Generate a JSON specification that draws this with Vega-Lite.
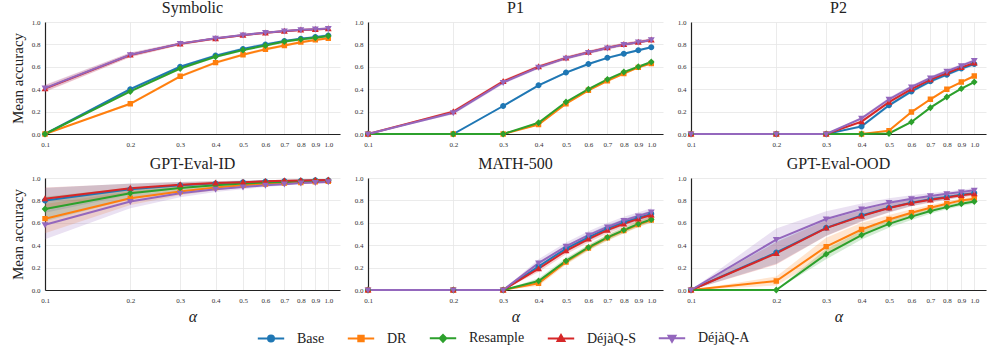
{
"$schema": "https://vega.github.io/schema/vega-lite/v6.json",
"padding": {"left": 10, "top": 0, "right": 5, "bottom": 0},
"background": "white",
"data": {"values": [
{"p":"Symbolic","s":"Base","a":0.1,"m":0,"lo":0,"hi":0},
{"p":"Symbolic","s":"Base","a":0.2,"m":0.40,"lo":0.388,"hi":0.412},
{"p":"Symbolic","s":"Base","a":0.3,"m":0.60,"lo":0.588,"hi":0.612},
{"p":"Symbolic","s":"Base","a":0.4,"m":0.70,"lo":0.688,"hi":0.712},
{"p":"Symbolic","s":"Base","a":0.5,"m":0.76,"lo":0.748,"hi":0.772},
{"p":"Symbolic","s":"Base","a":0.6,"m":0.80,"lo":0.788,"hi":0.812},
{"p":"Symbolic","s":"Base","a":0.7,"m":0.83,"lo":0.818,"hi":0.842},
{"p":"Symbolic","s":"Base","a":0.8,"m":0.85,"lo":0.838,"hi":0.862},
{"p":"Symbolic","s":"Base","a":0.9,"m":0.865,"lo":0.853,"hi":0.877},
{"p":"Symbolic","s":"Base","a":1.0,"m":0.88,"lo":0.868,"hi":0.892},
{"p":"Symbolic","s":"DR","a":0.1,"m":0,"lo":0,"hi":0},
{"p":"Symbolic","s":"DR","a":0.2,"m":0.27,"lo":0.258,"hi":0.282},
{"p":"Symbolic","s":"DR","a":0.3,"m":0.515,"lo":0.503,"hi":0.527},
{"p":"Symbolic","s":"DR","a":0.4,"m":0.637,"lo":0.625,"hi":0.649},
{"p":"Symbolic","s":"DR","a":0.5,"m":0.708,"lo":0.696,"hi":0.72},
{"p":"Symbolic","s":"DR","a":0.6,"m":0.756,"lo":0.744,"hi":0.768},
{"p":"Symbolic","s":"DR","a":0.7,"m":0.79,"lo":0.778,"hi":0.802},
{"p":"Symbolic","s":"DR","a":0.8,"m":0.82,"lo":0.808,"hi":0.832},
{"p":"Symbolic","s":"DR","a":0.9,"m":0.84,"lo":0.828,"hi":0.852},
{"p":"Symbolic","s":"DR","a":1.0,"m":0.855,"lo":0.843,"hi":0.867},
{"p":"Symbolic","s":"Resample","a":0.1,"m":0,"lo":0,"hi":0},
{"p":"Symbolic","s":"Resample","a":0.2,"m":0.38,"lo":0.368,"hi":0.392},
{"p":"Symbolic","s":"Resample","a":0.3,"m":0.585,"lo":0.573,"hi":0.597},
{"p":"Symbolic","s":"Resample","a":0.4,"m":0.69,"lo":0.678,"hi":0.702},
{"p":"Symbolic","s":"Resample","a":0.5,"m":0.75,"lo":0.738,"hi":0.762},
{"p":"Symbolic","s":"Resample","a":0.6,"m":0.79,"lo":0.778,"hi":0.802},
{"p":"Symbolic","s":"Resample","a":0.7,"m":0.825,"lo":0.813,"hi":0.837},
{"p":"Symbolic","s":"Resample","a":0.8,"m":0.845,"lo":0.833,"hi":0.857},
{"p":"Symbolic","s":"Resample","a":0.9,"m":0.86,"lo":0.848,"hi":0.872},
{"p":"Symbolic","s":"Resample","a":1.0,"m":0.875,"lo":0.863,"hi":0.887},
{"p":"Symbolic","s":"DéjàQ-S","a":0.1,"m":0.405,"lo":0.375,"hi":0.435},
{"p":"Symbolic","s":"DéjàQ-S","a":0.2,"m":0.705,"lo":0.685,"hi":0.725},
{"p":"Symbolic","s":"DéjàQ-S","a":0.3,"m":0.805,"lo":0.793,"hi":0.817},
{"p":"Symbolic","s":"DéjàQ-S","a":0.4,"m":0.852,"lo":0.842,"hi":0.862},
{"p":"Symbolic","s":"DéjàQ-S","a":0.5,"m":0.882,"lo":0.872,"hi":0.892},
{"p":"Symbolic","s":"DéjàQ-S","a":0.6,"m":0.903,"lo":0.893,"hi":0.913},
{"p":"Symbolic","s":"DéjàQ-S","a":0.7,"m":0.918,"lo":0.908,"hi":0.928},
{"p":"Symbolic","s":"DéjàQ-S","a":0.8,"m":0.928,"lo":0.918,"hi":0.938},
{"p":"Symbolic","s":"DéjàQ-S","a":0.9,"m":0.934,"lo":0.924,"hi":0.944},
{"p":"Symbolic","s":"DéjàQ-S","a":1.0,"m":0.94,"lo":0.93,"hi":0.95},
{"p":"Symbolic","s":"DéjàQ-A","a":0.1,"m":0.41,"lo":0.38,"hi":0.44},
{"p":"Symbolic","s":"DéjàQ-A","a":0.2,"m":0.708,"lo":0.688,"hi":0.728},
{"p":"Symbolic","s":"DéjàQ-A","a":0.3,"m":0.807,"lo":0.795,"hi":0.819},
{"p":"Symbolic","s":"DéjàQ-A","a":0.4,"m":0.854,"lo":0.844,"hi":0.864},
{"p":"Symbolic","s":"DéjàQ-A","a":0.5,"m":0.884,"lo":0.874,"hi":0.894},
{"p":"Symbolic","s":"DéjàQ-A","a":0.6,"m":0.905,"lo":0.895,"hi":0.915},
{"p":"Symbolic","s":"DéjàQ-A","a":0.7,"m":0.92,"lo":0.91,"hi":0.93},
{"p":"Symbolic","s":"DéjàQ-A","a":0.8,"m":0.93,"lo":0.92,"hi":0.94},
{"p":"Symbolic","s":"DéjàQ-A","a":0.9,"m":0.936,"lo":0.926,"hi":0.946},
{"p":"Symbolic","s":"DéjàQ-A","a":1.0,"m":0.942,"lo":0.932,"hi":0.952},

{"p":"P1","s":"Base","a":0.1,"m":0,"lo":0,"hi":0},
{"p":"P1","s":"Base","a":0.2,"m":0,"lo":0,"hi":0},
{"p":"P1","s":"Base","a":0.3,"m":0.25,"lo":0.24,"hi":0.26},
{"p":"P1","s":"Base","a":0.4,"m":0.435,"lo":0.425,"hi":0.445},
{"p":"P1","s":"Base","a":0.5,"m":0.548,"lo":0.538,"hi":0.558},
{"p":"P1","s":"Base","a":0.6,"m":0.625,"lo":0.615,"hi":0.635},
{"p":"P1","s":"Base","a":0.7,"m":0.68,"lo":0.67,"hi":0.69},
{"p":"P1","s":"Base","a":0.8,"m":0.717,"lo":0.707,"hi":0.727},
{"p":"P1","s":"Base","a":0.9,"m":0.747,"lo":0.737,"hi":0.757},
{"p":"P1","s":"Base","a":1.0,"m":0.774,"lo":0.764,"hi":0.784},
{"p":"P1","s":"DR","a":0.1,"m":0,"lo":0,"hi":0},
{"p":"P1","s":"DR","a":0.2,"m":0,"lo":0,"hi":0},
{"p":"P1","s":"DR","a":0.3,"m":0,"lo":0,"hi":0},
{"p":"P1","s":"DR","a":0.4,"m":0.085,"lo":0.075,"hi":0.095},
{"p":"P1","s":"DR","a":0.5,"m":0.27,"lo":0.26,"hi":0.28},
{"p":"P1","s":"DR","a":0.6,"m":0.39,"lo":0.38,"hi":0.40},
{"p":"P1","s":"DR","a":0.7,"m":0.475,"lo":0.465,"hi":0.485},
{"p":"P1","s":"DR","a":0.8,"m":0.54,"lo":0.53,"hi":0.55},
{"p":"P1","s":"DR","a":0.9,"m":0.595,"lo":0.585,"hi":0.605},
{"p":"P1","s":"DR","a":1.0,"m":0.63,"lo":0.62,"hi":0.64},
{"p":"P1","s":"Resample","a":0.1,"m":0,"lo":0,"hi":0},
{"p":"P1","s":"Resample","a":0.2,"m":0,"lo":0,"hi":0},
{"p":"P1","s":"Resample","a":0.3,"m":0,"lo":0,"hi":0},
{"p":"P1","s":"Resample","a":0.4,"m":0.10,"lo":0.09,"hi":0.11},
{"p":"P1","s":"Resample","a":0.5,"m":0.286,"lo":0.276,"hi":0.296},
{"p":"P1","s":"Resample","a":0.6,"m":0.40,"lo":0.39,"hi":0.41},
{"p":"P1","s":"Resample","a":0.7,"m":0.488,"lo":0.478,"hi":0.498},
{"p":"P1","s":"Resample","a":0.8,"m":0.553,"lo":0.543,"hi":0.563},
{"p":"P1","s":"Resample","a":0.9,"m":0.60,"lo":0.59,"hi":0.61},
{"p":"P1","s":"Resample","a":1.0,"m":0.643,"lo":0.633,"hi":0.653},
{"p":"P1","s":"DéjàQ-S","a":0.1,"m":0,"lo":0,"hi":0},
{"p":"P1","s":"DéjàQ-S","a":0.2,"m":0.20,"lo":0.185,"hi":0.215},
{"p":"P1","s":"DéjàQ-S","a":0.3,"m":0.47,"lo":0.455,"hi":0.485},
{"p":"P1","s":"DéjàQ-S","a":0.4,"m":0.60,"lo":0.585,"hi":0.615},
{"p":"P1","s":"DéjàQ-S","a":0.5,"m":0.68,"lo":0.665,"hi":0.695},
{"p":"P1","s":"DéjàQ-S","a":0.6,"m":0.73,"lo":0.715,"hi":0.745},
{"p":"P1","s":"DéjàQ-S","a":0.7,"m":0.77,"lo":0.755,"hi":0.785},
{"p":"P1","s":"DéjàQ-S","a":0.8,"m":0.80,"lo":0.785,"hi":0.815},
{"p":"P1","s":"DéjàQ-S","a":0.9,"m":0.82,"lo":0.805,"hi":0.835},
{"p":"P1","s":"DéjàQ-S","a":1.0,"m":0.84,"lo":0.825,"hi":0.855},
{"p":"P1","s":"DéjàQ-A","a":0.1,"m":0,"lo":0,"hi":0},
{"p":"P1","s":"DéjàQ-A","a":0.2,"m":0.19,"lo":0.175,"hi":0.205},
{"p":"P1","s":"DéjàQ-A","a":0.3,"m":0.46,"lo":0.445,"hi":0.475},
{"p":"P1","s":"DéjàQ-A","a":0.4,"m":0.595,"lo":0.58,"hi":0.61},
{"p":"P1","s":"DéjàQ-A","a":0.5,"m":0.677,"lo":0.662,"hi":0.692},
{"p":"P1","s":"DéjàQ-A","a":0.6,"m":0.728,"lo":0.713,"hi":0.743},
{"p":"P1","s":"DéjàQ-A","a":0.7,"m":0.768,"lo":0.753,"hi":0.783},
{"p":"P1","s":"DéjàQ-A","a":0.8,"m":0.798,"lo":0.783,"hi":0.813},
{"p":"P1","s":"DéjàQ-A","a":0.9,"m":0.82,"lo":0.805,"hi":0.835},
{"p":"P1","s":"DéjàQ-A","a":1.0,"m":0.84,"lo":0.825,"hi":0.855},

{"p":"P2","s":"Base","a":0.1,"m":0,"lo":0,"hi":0},
{"p":"P2","s":"Base","a":0.2,"m":0,"lo":0,"hi":0},
{"p":"P2","s":"Base","a":0.3,"m":0,"lo":0,"hi":0},
{"p":"P2","s":"Base","a":0.4,"m":0.068,"lo":0.053,"hi":0.083},
{"p":"P2","s":"Base","a":0.5,"m":0.256,"lo":0.241,"hi":0.271},
{"p":"P2","s":"Base","a":0.6,"m":0.38,"lo":0.365,"hi":0.395},
{"p":"P2","s":"Base","a":0.7,"m":0.47,"lo":0.455,"hi":0.485},
{"p":"P2","s":"Base","a":0.8,"m":0.53,"lo":0.515,"hi":0.545},
{"p":"P2","s":"Base","a":0.9,"m":0.585,"lo":0.57,"hi":0.60},
{"p":"P2","s":"Base","a":1.0,"m":0.625,"lo":0.61,"hi":0.64},
{"p":"P2","s":"DR","a":0.1,"m":0,"lo":0,"hi":0},
{"p":"P2","s":"DR","a":0.2,"m":0,"lo":0,"hi":0},
{"p":"P2","s":"DR","a":0.3,"m":0,"lo":0,"hi":0},
{"p":"P2","s":"DR","a":0.4,"m":0,"lo":0,"hi":0},
{"p":"P2","s":"DR","a":0.5,"m":0.03,"lo":0.02,"hi":0.04},
{"p":"P2","s":"DR","a":0.6,"m":0.196,"lo":0.186,"hi":0.206},
{"p":"P2","s":"DR","a":0.7,"m":0.31,"lo":0.30,"hi":0.32},
{"p":"P2","s":"DR","a":0.8,"m":0.40,"lo":0.39,"hi":0.41},
{"p":"P2","s":"DR","a":0.9,"m":0.464,"lo":0.454,"hi":0.474},
{"p":"P2","s":"DR","a":1.0,"m":0.518,"lo":0.508,"hi":0.528},
{"p":"P2","s":"Resample","a":0.1,"m":0,"lo":0,"hi":0},
{"p":"P2","s":"Resample","a":0.2,"m":0,"lo":0,"hi":0},
{"p":"P2","s":"Resample","a":0.3,"m":0,"lo":0,"hi":0},
{"p":"P2","s":"Resample","a":0.4,"m":0,"lo":0,"hi":0},
{"p":"P2","s":"Resample","a":0.5,"m":0.005,"lo":0,"hi":0.01},
{"p":"P2","s":"Resample","a":0.6,"m":0.107,"lo":0.097,"hi":0.117},
{"p":"P2","s":"Resample","a":0.7,"m":0.235,"lo":0.225,"hi":0.245},
{"p":"P2","s":"Resample","a":0.8,"m":0.33,"lo":0.32,"hi":0.34},
{"p":"P2","s":"Resample","a":0.9,"m":0.405,"lo":0.395,"hi":0.415},
{"p":"P2","s":"Resample","a":1.0,"m":0.464,"lo":0.454,"hi":0.474},
{"p":"P2","s":"DéjàQ-S","a":0.1,"m":0,"lo":0,"hi":0},
{"p":"P2","s":"DéjàQ-S","a":0.2,"m":0,"lo":0,"hi":0},
{"p":"P2","s":"DéjàQ-S","a":0.3,"m":0,"lo":0,"hi":0},
{"p":"P2","s":"DéjàQ-S","a":0.4,"m":0.11,"lo":0.095,"hi":0.125},
{"p":"P2","s":"DéjàQ-S","a":0.5,"m":0.285,"lo":0.27,"hi":0.30},
{"p":"P2","s":"DéjàQ-S","a":0.6,"m":0.40,"lo":0.385,"hi":0.415},
{"p":"P2","s":"DéjàQ-S","a":0.7,"m":0.485,"lo":0.47,"hi":0.50},
{"p":"P2","s":"DéjàQ-S","a":0.8,"m":0.545,"lo":0.53,"hi":0.56},
{"p":"P2","s":"DéjàQ-S","a":0.9,"m":0.595,"lo":0.58,"hi":0.61},
{"p":"P2","s":"DéjàQ-S","a":1.0,"m":0.635,"lo":0.62,"hi":0.65},
{"p":"P2","s":"DéjàQ-A","a":0.1,"m":0,"lo":0,"hi":0},
{"p":"P2","s":"DéjàQ-A","a":0.2,"m":0,"lo":0,"hi":0},
{"p":"P2","s":"DéjàQ-A","a":0.3,"m":0,"lo":0,"hi":0},
{"p":"P2","s":"DéjàQ-A","a":0.4,"m":0.14,"lo":0.125,"hi":0.155},
{"p":"P2","s":"DéjàQ-A","a":0.5,"m":0.31,"lo":0.295,"hi":0.325},
{"p":"P2","s":"DéjàQ-A","a":0.6,"m":0.42,"lo":0.405,"hi":0.435},
{"p":"P2","s":"DéjàQ-A","a":0.7,"m":0.50,"lo":0.485,"hi":0.515},
{"p":"P2","s":"DéjàQ-A","a":0.8,"m":0.56,"lo":0.545,"hi":0.575},
{"p":"P2","s":"DéjàQ-A","a":0.9,"m":0.61,"lo":0.595,"hi":0.625},
{"p":"P2","s":"DéjàQ-A","a":1.0,"m":0.655,"lo":0.64,"hi":0.67},

{"p":"GPT-Eval-ID","s":"Base","a":0.1,"m":0.80,"lo":0.69,"hi":0.91},
{"p":"GPT-Eval-ID","s":"Base","a":0.2,"m":0.90,"lo":0.85,"hi":0.95},
{"p":"GPT-Eval-ID","s":"Base","a":0.3,"m":0.935,"lo":0.905,"hi":0.965},
{"p":"GPT-Eval-ID","s":"Base","a":0.4,"m":0.952,"lo":0.932,"hi":0.972},
{"p":"GPT-Eval-ID","s":"Base","a":0.5,"m":0.962,"lo":0.947,"hi":0.977},
{"p":"GPT-Eval-ID","s":"Base","a":0.6,"m":0.968,"lo":0.956,"hi":0.98},
{"p":"GPT-Eval-ID","s":"Base","a":0.7,"m":0.973,"lo":0.963,"hi":0.983},
{"p":"GPT-Eval-ID","s":"Base","a":0.8,"m":0.976,"lo":0.968,"hi":0.984},
{"p":"GPT-Eval-ID","s":"Base","a":0.9,"m":0.979,"lo":0.971,"hi":0.987},
{"p":"GPT-Eval-ID","s":"Base","a":1.0,"m":0.981,"lo":0.973,"hi":0.989},
{"p":"GPT-Eval-ID","s":"DR","a":0.1,"m":0.637,"lo":0.507,"hi":0.767},
{"p":"GPT-Eval-ID","s":"DR","a":0.2,"m":0.82,"lo":0.76,"hi":0.88},
{"p":"GPT-Eval-ID","s":"DR","a":0.3,"m":0.88,"lo":0.845,"hi":0.915},
{"p":"GPT-Eval-ID","s":"DR","a":0.4,"m":0.915,"lo":0.89,"hi":0.94},
{"p":"GPT-Eval-ID","s":"DR","a":0.5,"m":0.935,"lo":0.915,"hi":0.955},
{"p":"GPT-Eval-ID","s":"DR","a":0.6,"m":0.947,"lo":0.932,"hi":0.962},
{"p":"GPT-Eval-ID","s":"DR","a":0.7,"m":0.955,"lo":0.943,"hi":0.967},
{"p":"GPT-Eval-ID","s":"DR","a":0.8,"m":0.96,"lo":0.95,"hi":0.97},
{"p":"GPT-Eval-ID","s":"DR","a":0.9,"m":0.965,"lo":0.955,"hi":0.975},
{"p":"GPT-Eval-ID","s":"DR","a":1.0,"m":0.97,"lo":0.96,"hi":0.98},
{"p":"GPT-Eval-ID","s":"Resample","a":0.1,"m":0.723,"lo":0.613,"hi":0.833},
{"p":"GPT-Eval-ID","s":"Resample","a":0.2,"m":0.863,"lo":0.813,"hi":0.913},
{"p":"GPT-Eval-ID","s":"Resample","a":0.3,"m":0.91,"lo":0.88,"hi":0.94},
{"p":"GPT-Eval-ID","s":"Resample","a":0.4,"m":0.935,"lo":0.915,"hi":0.955},
{"p":"GPT-Eval-ID","s":"Resample","a":0.5,"m":0.95,"lo":0.935,"hi":0.965},
{"p":"GPT-Eval-ID","s":"Resample","a":0.6,"m":0.96,"lo":0.948,"hi":0.972},
{"p":"GPT-Eval-ID","s":"Resample","a":0.7,"m":0.965,"lo":0.955,"hi":0.975},
{"p":"GPT-Eval-ID","s":"Resample","a":0.8,"m":0.97,"lo":0.962,"hi":0.978},
{"p":"GPT-Eval-ID","s":"Resample","a":0.9,"m":0.974,"lo":0.966,"hi":0.982},
{"p":"GPT-Eval-ID","s":"Resample","a":1.0,"m":0.976,"lo":0.968,"hi":0.984},
{"p":"GPT-Eval-ID","s":"DéjàQ-S","a":0.1,"m":0.815,"lo":0.715,"hi":0.915},
{"p":"GPT-Eval-ID","s":"DéjàQ-S","a":0.2,"m":0.908,"lo":0.868,"hi":0.948},
{"p":"GPT-Eval-ID","s":"DéjàQ-S","a":0.3,"m":0.94,"lo":0.915,"hi":0.965},
{"p":"GPT-Eval-ID","s":"DéjàQ-S","a":0.4,"m":0.955,"lo":0.937,"hi":0.973},
{"p":"GPT-Eval-ID","s":"DéjàQ-S","a":0.5,"m":0.963,"lo":0.95,"hi":0.976},
{"p":"GPT-Eval-ID","s":"DéjàQ-S","a":0.6,"m":0.97,"lo":0.96,"hi":0.98},
{"p":"GPT-Eval-ID","s":"DéjàQ-S","a":0.7,"m":0.975,"lo":0.967,"hi":0.983},
{"p":"GPT-Eval-ID","s":"DéjàQ-S","a":0.8,"m":0.978,"lo":0.971,"hi":0.985},
{"p":"GPT-Eval-ID","s":"DéjàQ-S","a":0.9,"m":0.98,"lo":0.973,"hi":0.987},
{"p":"GPT-Eval-ID","s":"DéjàQ-S","a":1.0,"m":0.982,"lo":0.975,"hi":0.989},
{"p":"GPT-Eval-ID","s":"DéjàQ-A","a":0.1,"m":0.583,"lo":0.453,"hi":0.713},
{"p":"GPT-Eval-ID","s":"DéjàQ-A","a":0.2,"m":0.79,"lo":0.73,"hi":0.85},
{"p":"GPT-Eval-ID","s":"DéjàQ-A","a":0.3,"m":0.863,"lo":0.828,"hi":0.898},
{"p":"GPT-Eval-ID","s":"DéjàQ-A","a":0.4,"m":0.90,"lo":0.875,"hi":0.925},
{"p":"GPT-Eval-ID","s":"DéjàQ-A","a":0.5,"m":0.92,"lo":0.90,"hi":0.94},
{"p":"GPT-Eval-ID","s":"DéjàQ-A","a":0.6,"m":0.935,"lo":0.92,"hi":0.95},
{"p":"GPT-Eval-ID","s":"DéjàQ-A","a":0.7,"m":0.945,"lo":0.933,"hi":0.957},
{"p":"GPT-Eval-ID","s":"DéjàQ-A","a":0.8,"m":0.955,"lo":0.945,"hi":0.965},
{"p":"GPT-Eval-ID","s":"DéjàQ-A","a":0.9,"m":0.96,"lo":0.95,"hi":0.97},
{"p":"GPT-Eval-ID","s":"DéjàQ-A","a":1.0,"m":0.965,"lo":0.955,"hi":0.975},

{"p":"MATH-500","s":"Base","a":0.1,"m":0,"lo":0,"hi":0},
{"p":"MATH-500","s":"Base","a":0.2,"m":0,"lo":0,"hi":0},
{"p":"MATH-500","s":"Base","a":0.3,"m":0,"lo":0,"hi":0},
{"p":"MATH-500","s":"Base","a":0.4,"m":0.21,"lo":0.18,"hi":0.24},
{"p":"MATH-500","s":"Base","a":0.5,"m":0.37,"lo":0.34,"hi":0.40},
{"p":"MATH-500","s":"Base","a":0.6,"m":0.47,"lo":0.44,"hi":0.50},
{"p":"MATH-500","s":"Base","a":0.7,"m":0.55,"lo":0.52,"hi":0.58},
{"p":"MATH-500","s":"Base","a":0.8,"m":0.605,"lo":0.575,"hi":0.635},
{"p":"MATH-500","s":"Base","a":0.9,"m":0.645,"lo":0.615,"hi":0.675},
{"p":"MATH-500","s":"Base","a":1.0,"m":0.68,"lo":0.65,"hi":0.71},
{"p":"MATH-500","s":"DR","a":0.1,"m":0,"lo":0,"hi":0},
{"p":"MATH-500","s":"DR","a":0.2,"m":0,"lo":0,"hi":0},
{"p":"MATH-500","s":"DR","a":0.3,"m":0,"lo":0,"hi":0},
{"p":"MATH-500","s":"DR","a":0.4,"m":0.06,"lo":0.035,"hi":0.085},
{"p":"MATH-500","s":"DR","a":0.5,"m":0.25,"lo":0.225,"hi":0.275},
{"p":"MATH-500","s":"DR","a":0.6,"m":0.375,"lo":0.35,"hi":0.40},
{"p":"MATH-500","s":"DR","a":0.7,"m":0.465,"lo":0.44,"hi":0.49},
{"p":"MATH-500","s":"DR","a":0.8,"m":0.53,"lo":0.505,"hi":0.555},
{"p":"MATH-500","s":"DR","a":0.9,"m":0.585,"lo":0.56,"hi":0.61},
{"p":"MATH-500","s":"DR","a":1.0,"m":0.625,"lo":0.60,"hi":0.65},
{"p":"MATH-500","s":"Resample","a":0.1,"m":0,"lo":0,"hi":0},
{"p":"MATH-500","s":"Resample","a":0.2,"m":0,"lo":0,"hi":0},
{"p":"MATH-500","s":"Resample","a":0.3,"m":0,"lo":0,"hi":0},
{"p":"MATH-500","s":"Resample","a":0.4,"m":0.08,"lo":0.055,"hi":0.105},
{"p":"MATH-500","s":"Resample","a":0.5,"m":0.26,"lo":0.235,"hi":0.285},
{"p":"MATH-500","s":"Resample","a":0.6,"m":0.38,"lo":0.355,"hi":0.405},
{"p":"MATH-500","s":"Resample","a":0.7,"m":0.47,"lo":0.445,"hi":0.495},
{"p":"MATH-500","s":"Resample","a":0.8,"m":0.535,"lo":0.51,"hi":0.56},
{"p":"MATH-500","s":"Resample","a":0.9,"m":0.59,"lo":0.565,"hi":0.615},
{"p":"MATH-500","s":"Resample","a":1.0,"m":0.63,"lo":0.605,"hi":0.655},
{"p":"MATH-500","s":"DéjàQ-S","a":0.1,"m":0,"lo":0,"hi":0},
{"p":"MATH-500","s":"DéjàQ-S","a":0.2,"m":0,"lo":0,"hi":0},
{"p":"MATH-500","s":"DéjàQ-S","a":0.3,"m":0,"lo":0,"hi":0},
{"p":"MATH-500","s":"DéjàQ-S","a":0.4,"m":0.19,"lo":0.16,"hi":0.22},
{"p":"MATH-500","s":"DéjàQ-S","a":0.5,"m":0.35,"lo":0.32,"hi":0.38},
{"p":"MATH-500","s":"DéjàQ-S","a":0.6,"m":0.455,"lo":0.425,"hi":0.485},
{"p":"MATH-500","s":"DéjàQ-S","a":0.7,"m":0.535,"lo":0.505,"hi":0.565},
{"p":"MATH-500","s":"DéjàQ-S","a":0.8,"m":0.59,"lo":0.56,"hi":0.62},
{"p":"MATH-500","s":"DéjàQ-S","a":0.9,"m":0.635,"lo":0.605,"hi":0.665},
{"p":"MATH-500","s":"DéjàQ-S","a":1.0,"m":0.67,"lo":0.64,"hi":0.70},
{"p":"MATH-500","s":"DéjàQ-A","a":0.1,"m":0,"lo":0,"hi":0},
{"p":"MATH-500","s":"DéjàQ-A","a":0.2,"m":0,"lo":0,"hi":0},
{"p":"MATH-500","s":"DéjàQ-A","a":0.3,"m":0,"lo":0,"hi":0},
{"p":"MATH-500","s":"DéjàQ-A","a":0.4,"m":0.24,"lo":0.205,"hi":0.275},
{"p":"MATH-500","s":"DéjàQ-A","a":0.5,"m":0.39,"lo":0.355,"hi":0.425},
{"p":"MATH-500","s":"DéjàQ-A","a":0.6,"m":0.49,"lo":0.455,"hi":0.525},
{"p":"MATH-500","s":"DéjàQ-A","a":0.7,"m":0.563,"lo":0.528,"hi":0.598},
{"p":"MATH-500","s":"DéjàQ-A","a":0.8,"m":0.62,"lo":0.585,"hi":0.655},
{"p":"MATH-500","s":"DéjàQ-A","a":0.9,"m":0.66,"lo":0.625,"hi":0.695},
{"p":"MATH-500","s":"DéjàQ-A","a":1.0,"m":0.696,"lo":0.661,"hi":0.731},

{"p":"GPT-Eval-OOD","s":"Base","a":0.1,"m":0,"lo":0,"hi":0},
{"p":"GPT-Eval-OOD","s":"Base","a":0.2,"m":0.335,"lo":0.235,"hi":0.435},
{"p":"GPT-Eval-OOD","s":"Base","a":0.3,"m":0.555,"lo":0.485,"hi":0.625},
{"p":"GPT-Eval-OOD","s":"Base","a":0.4,"m":0.665,"lo":0.615,"hi":0.715},
{"p":"GPT-Eval-OOD","s":"Base","a":0.5,"m":0.735,"lo":0.695,"hi":0.775},
{"p":"GPT-Eval-OOD","s":"Base","a":0.6,"m":0.78,"lo":0.75,"hi":0.81},
{"p":"GPT-Eval-OOD","s":"Base","a":0.7,"m":0.81,"lo":0.785,"hi":0.835},
{"p":"GPT-Eval-OOD","s":"Base","a":0.8,"m":0.83,"lo":0.81,"hi":0.85},
{"p":"GPT-Eval-OOD","s":"Base","a":0.9,"m":0.85,"lo":0.83,"hi":0.87},
{"p":"GPT-Eval-OOD","s":"Base","a":1.0,"m":0.865,"lo":0.845,"hi":0.885},
{"p":"GPT-Eval-OOD","s":"DR","a":0.1,"m":0,"lo":0,"hi":0},
{"p":"GPT-Eval-OOD","s":"DR","a":0.2,"m":0.08,"lo":0.04,"hi":0.12},
{"p":"GPT-Eval-OOD","s":"DR","a":0.3,"m":0.387,"lo":0.307,"hi":0.467},
{"p":"GPT-Eval-OOD","s":"DR","a":0.4,"m":0.54,"lo":0.48,"hi":0.60},
{"p":"GPT-Eval-OOD","s":"DR","a":0.5,"m":0.63,"lo":0.59,"hi":0.67},
{"p":"GPT-Eval-OOD","s":"DR","a":0.6,"m":0.69,"lo":0.66,"hi":0.72},
{"p":"GPT-Eval-OOD","s":"DR","a":0.7,"m":0.735,"lo":0.71,"hi":0.76},
{"p":"GPT-Eval-OOD","s":"DR","a":0.8,"m":0.77,"lo":0.75,"hi":0.79},
{"p":"GPT-Eval-OOD","s":"DR","a":0.9,"m":0.80,"lo":0.78,"hi":0.82},
{"p":"GPT-Eval-OOD","s":"DR","a":1.0,"m":0.815,"lo":0.795,"hi":0.835},
{"p":"GPT-Eval-OOD","s":"Resample","a":0.1,"m":0,"lo":0,"hi":0},
{"p":"GPT-Eval-OOD","s":"Resample","a":0.2,"m":0,"lo":0,"hi":0.005},
{"p":"GPT-Eval-OOD","s":"Resample","a":0.3,"m":0.32,"lo":0.275,"hi":0.365},
{"p":"GPT-Eval-OOD","s":"Resample","a":0.4,"m":0.49,"lo":0.45,"hi":0.53},
{"p":"GPT-Eval-OOD","s":"Resample","a":0.5,"m":0.59,"lo":0.555,"hi":0.625},
{"p":"GPT-Eval-OOD","s":"Resample","a":0.6,"m":0.655,"lo":0.625,"hi":0.685},
{"p":"GPT-Eval-OOD","s":"Resample","a":0.7,"m":0.705,"lo":0.68,"hi":0.73},
{"p":"GPT-Eval-OOD","s":"Resample","a":0.8,"m":0.74,"lo":0.72,"hi":0.76},
{"p":"GPT-Eval-OOD","s":"Resample","a":0.9,"m":0.77,"lo":0.75,"hi":0.79},
{"p":"GPT-Eval-OOD","s":"Resample","a":1.0,"m":0.79,"lo":0.77,"hi":0.81},
{"p":"GPT-Eval-OOD","s":"DéjàQ-S","a":0.1,"m":0,"lo":0,"hi":0},
{"p":"GPT-Eval-OOD","s":"DéjàQ-S","a":0.2,"m":0.327,"lo":0.227,"hi":0.427},
{"p":"GPT-Eval-OOD","s":"DéjàQ-S","a":0.3,"m":0.553,"lo":0.483,"hi":0.623},
{"p":"GPT-Eval-OOD","s":"DéjàQ-S","a":0.4,"m":0.66,"lo":0.61,"hi":0.71},
{"p":"GPT-Eval-OOD","s":"DéjàQ-S","a":0.5,"m":0.732,"lo":0.692,"hi":0.772},
{"p":"GPT-Eval-OOD","s":"DéjàQ-S","a":0.6,"m":0.777,"lo":0.747,"hi":0.807},
{"p":"GPT-Eval-OOD","s":"DéjàQ-S","a":0.7,"m":0.805,"lo":0.78,"hi":0.83},
{"p":"GPT-Eval-OOD","s":"DéjàQ-S","a":0.8,"m":0.825,"lo":0.805,"hi":0.845},
{"p":"GPT-Eval-OOD","s":"DéjàQ-S","a":0.9,"m":0.845,"lo":0.825,"hi":0.865},
{"p":"GPT-Eval-OOD","s":"DéjàQ-S","a":1.0,"m":0.86,"lo":0.84,"hi":0.88},
{"p":"GPT-Eval-OOD","s":"DéjàQ-A","a":0.1,"m":0,"lo":0,"hi":0},
{"p":"GPT-Eval-OOD","s":"DéjàQ-A","a":0.2,"m":0.45,"lo":0.35,"hi":0.55},
{"p":"GPT-Eval-OOD","s":"DéjàQ-A","a":0.3,"m":0.634,"lo":0.564,"hi":0.704},
{"p":"GPT-Eval-OOD","s":"DéjàQ-A","a":0.4,"m":0.723,"lo":0.673,"hi":0.773},
{"p":"GPT-Eval-OOD","s":"DéjàQ-A","a":0.5,"m":0.78,"lo":0.74,"hi":0.82},
{"p":"GPT-Eval-OOD","s":"DéjàQ-A","a":0.6,"m":0.815,"lo":0.785,"hi":0.845},
{"p":"GPT-Eval-OOD","s":"DéjàQ-A","a":0.7,"m":0.84,"lo":0.815,"hi":0.865},
{"p":"GPT-Eval-OOD","s":"DéjàQ-A","a":0.8,"m":0.86,"lo":0.84,"hi":0.88},
{"p":"GPT-Eval-OOD","s":"DéjàQ-A","a":0.9,"m":0.875,"lo":0.855,"hi":0.895},
{"p":"GPT-Eval-OOD","s":"DéjàQ-A","a":1.0,"m":0.89,"lo":0.87,"hi":0.91}
]},
"spacing": 9,
"vconcat": [
{"hconcat": [
 {"width": 295, "height": 112, "title": "Symbolic",
  "transform": [{"filter": "datum.p === 'Symbolic'"}],
  "encoding": {
   "x": {"field": "a", "type": "quantitative", "scale": {"type": "log", "domain": [0.1, 1.1], "nice": false}, "axis": {"values": [0.1,0.2,0.3,0.4,0.5,0.6,0.7,0.8,0.9,1.0], "format": ".1f", "title": null}},
   "color": {"field": "s", "type": "nominal", "scale": {"domain": ["Base","DR","Resample","DéjàQ-S","DéjàQ-A"], "range": ["#1f77b4","#ff7f0e","#2ca02c","#d62728","#9467bd"]}, "legend": {"title": null, "orient": "none", "legendX": 219, "legendY": 309, "direction": "horizontal", "symbolSize": 36, "labelFontSize": 14, "labelOffset": 19, "columnPadding": 18, "encode": {"symbols": {"update": {"stroke": {"scale": "color", "field": "value"}, "fill": {"scale": "color", "field": "value"}, "strokeWidth": {"value": 2}, "opacity": {"value": 1}}}}}}
  },
  "layer": [
   {"mark": {"type": "area", "opacity": 0.2}, "encoding": {"y": {"field": "lo", "type": "quantitative", "scale": {"domain": [0, 1]}, "axis": {"values": [0,0.2,0.4,0.6,0.8,1], "format": ".1f", "title": "Mean accuracy"}}, "y2": {"field": "hi"}}},
   {"mark": {"type": "line", "strokeWidth": 2}, "encoding": {"y": {"field": "m", "type": "quantitative", "scale": {"domain": [0, 1]}, "axis": {"values": [0,0.2,0.4,0.6,0.8,1], "format": ".1f", "title": "Mean accuracy"}}}},
   {"mark": {"type": "point", "filled": true, "size": 36, "opacity": 1}, "encoding": {"y": {"field": "m", "type": "quantitative", "scale": {"domain": [0, 1]}, "axis": {"values": [0,0.2,0.4,0.6,0.8,1], "format": ".1f", "title": "Mean accuracy"}},
     "shape": {"field": "s", "type": "nominal", "scale": {"domain": ["Base","DR","Resample","DéjàQ-S","DéjàQ-A"], "range": ["M-4.4,0H4.4M1,0A1,1,0,1,1,-1,0A1,1,0,1,1,1,0Z", "M-4.4,0H4.4M-0.9,-0.9H0.9V0.9H-0.9Z", "M-4.4,0H4.4M0,-1.15L1.1,0L0,1.15L-1.1,0Z", "M-4.4,0H4.4M0,-1.15L1.15,0.85L-1.15,0.85Z", "M-4.4,0H4.4M0,1.15L1.15,-0.85L-1.15,-0.85Z"]}, "legend": {"title": null, "orient": "none", "legendX": 219, "legendY": 309, "direction": "horizontal", "symbolSize": 36, "labelFontSize": 14, "labelOffset": 19, "columnPadding": 18, "encode": {"symbols": {"update": {"stroke": {"scale": "color", "field": "value"}, "fill": {"scale": "color", "field": "value"}, "strokeWidth": {"value": 2}, "opacity": {"value": 1}}}}}}}}
  ]},
 {"width": 295, "height": 112, "title": "P1",
  "transform": [{"filter": "datum.p === 'P1'"}],
  "encoding": {
   "x": {"field": "a", "type": "quantitative", "scale": {"type": "log", "domain": [0.1, 1.1], "nice": false}, "axis": {"values": [0.1,0.2,0.3,0.4,0.5,0.6,0.7,0.8,0.9,1.0], "format": ".1f", "title": null}},
   "color": {"field": "s", "type": "nominal", "scale": {"domain": ["Base","DR","Resample","DéjàQ-S","DéjàQ-A"], "range": ["#1f77b4","#ff7f0e","#2ca02c","#d62728","#9467bd"]}}
  },
  "layer": [
   {"mark": {"type": "area", "opacity": 0.2}, "encoding": {"y": {"field": "lo", "type": "quantitative", "scale": {"domain": [0, 1]}, "axis": {"values": [0,0.2,0.4,0.6,0.8,1], "format": ".1f", "title": null}}, "y2": {"field": "hi"}}},
   {"mark": {"type": "line", "strokeWidth": 2}, "encoding": {"y": {"field": "m", "type": "quantitative", "scale": {"domain": [0, 1]}, "axis": {"values": [0,0.2,0.4,0.6,0.8,1], "format": ".1f", "title": null}}}},
   {"mark": {"type": "point", "filled": true, "size": 36, "opacity": 1}, "encoding": {"y": {"field": "m", "type": "quantitative", "scale": {"domain": [0, 1]}, "axis": {"values": [0,0.2,0.4,0.6,0.8,1], "format": ".1f", "title": null}},
     "shape": {"field": "s", "type": "nominal"}}}
  ]},
 {"width": 295, "height": 112, "title": "P2",
  "transform": [{"filter": "datum.p === 'P2'"}],
  "encoding": {
   "x": {"field": "a", "type": "quantitative", "scale": {"type": "log", "domain": [0.1, 1.1], "nice": false}, "axis": {"values": [0.1,0.2,0.3,0.4,0.5,0.6,0.7,0.8,0.9,1.0], "format": ".1f", "title": null}},
   "color": {"field": "s", "type": "nominal"}
  },
  "layer": [
   {"mark": {"type": "area", "opacity": 0.2}, "encoding": {"y": {"field": "lo", "type": "quantitative", "scale": {"domain": [0, 1]}, "axis": {"values": [0,0.2,0.4,0.6,0.8,1], "format": ".1f", "title": null}}, "y2": {"field": "hi"}}},
   {"mark": {"type": "line", "strokeWidth": 2}, "encoding": {"y": {"field": "m", "type": "quantitative", "scale": {"domain": [0, 1]}, "axis": {"values": [0,0.2,0.4,0.6,0.8,1], "format": ".1f", "title": null}}}},
   {"mark": {"type": "point", "filled": true, "size": 36, "opacity": 1}, "encoding": {"y": {"field": "m", "type": "quantitative", "scale": {"domain": [0, 1]}, "axis": {"values": [0,0.2,0.4,0.6,0.8,1], "format": ".1f", "title": null}},
     "shape": {"field": "s", "type": "nominal"}}}
  ]}
]},
{"hconcat": [
 {"width": 295, "height": 112, "title": "GPT-Eval-ID",
  "transform": [{"filter": "datum.p === 'GPT-Eval-ID'"}],
  "encoding": {
   "x": {"field": "a", "type": "quantitative", "scale": {"type": "log", "domain": [0.1, 1.1], "nice": false}, "axis": {"values": [0.1,0.2,0.3,0.4,0.5,0.6,0.7,0.8,0.9,1.0], "format": ".1f", "title": "α"}},
   "color": {"field": "s", "type": "nominal"}
  },
  "layer": [
   {"mark": {"type": "area", "opacity": 0.2}, "encoding": {"y": {"field": "lo", "type": "quantitative", "scale": {"domain": [0, 1]}, "axis": {"values": [0,0.2,0.4,0.6,0.8,1], "format": ".1f", "title": "Mean accuracy"}}, "y2": {"field": "hi"}}},
   {"mark": {"type": "line", "strokeWidth": 2}, "encoding": {"y": {"field": "m", "type": "quantitative", "scale": {"domain": [0, 1]}, "axis": {"values": [0,0.2,0.4,0.6,0.8,1], "format": ".1f", "title": "Mean accuracy"}}}},
   {"mark": {"type": "point", "filled": true, "size": 36, "opacity": 1}, "encoding": {"y": {"field": "m", "type": "quantitative", "scale": {"domain": [0, 1]}, "axis": {"values": [0,0.2,0.4,0.6,0.8,1], "format": ".1f", "title": "Mean accuracy"}},
     "shape": {"field": "s", "type": "nominal"}}}
  ]},
 {"width": 295, "height": 112, "title": "MATH-500",
  "transform": [{"filter": "datum.p === 'MATH-500'"}],
  "encoding": {
   "x": {"field": "a", "type": "quantitative", "scale": {"type": "log", "domain": [0.1, 1.1], "nice": false}, "axis": {"values": [0.1,0.2,0.3,0.4,0.5,0.6,0.7,0.8,0.9,1.0], "format": ".1f", "title": "α"}},
   "color": {"field": "s", "type": "nominal"}
  },
  "layer": [
   {"mark": {"type": "area", "opacity": 0.2}, "encoding": {"y": {"field": "lo", "type": "quantitative", "scale": {"domain": [0, 1]}, "axis": {"values": [0,0.2,0.4,0.6,0.8,1], "format": ".1f", "title": null}}, "y2": {"field": "hi"}}},
   {"mark": {"type": "line", "strokeWidth": 2}, "encoding": {"y": {"field": "m", "type": "quantitative", "scale": {"domain": [0, 1]}, "axis": {"values": [0,0.2,0.4,0.6,0.8,1], "format": ".1f", "title": null}}}},
   {"mark": {"type": "point", "filled": true, "size": 36, "opacity": 1}, "encoding": {"y": {"field": "m", "type": "quantitative", "scale": {"domain": [0, 1]}, "axis": {"values": [0,0.2,0.4,0.6,0.8,1], "format": ".1f", "title": null}},
     "shape": {"field": "s", "type": "nominal"}}}
  ]},
 {"width": 295, "height": 112, "title": "GPT-Eval-OOD",
  "transform": [{"filter": "datum.p === 'GPT-Eval-OOD'"}],
  "encoding": {
   "x": {"field": "a", "type": "quantitative", "scale": {"type": "log", "domain": [0.1, 1.1], "nice": false}, "axis": {"values": [0.1,0.2,0.3,0.4,0.5,0.6,0.7,0.8,0.9,1.0], "format": ".1f", "title": "α"}},
   "color": {"field": "s", "type": "nominal"}
  },
  "layer": [
   {"mark": {"type": "area", "opacity": 0.2}, "encoding": {"y": {"field": "lo", "type": "quantitative", "scale": {"domain": [0, 1]}, "axis": {"values": [0,0.2,0.4,0.6,0.8,1], "format": ".1f", "title": null}}, "y2": {"field": "hi"}}},
   {"mark": {"type": "line", "strokeWidth": 2}, "encoding": {"y": {"field": "m", "type": "quantitative", "scale": {"domain": [0, 1]}, "axis": {"values": [0,0.2,0.4,0.6,0.8,1], "format": ".1f", "title": null}}}},
   {"mark": {"type": "point", "filled": true, "size": 36, "opacity": 1}, "encoding": {"y": {"field": "m", "type": "quantitative", "scale": {"domain": [0, 1]}, "axis": {"values": [0,0.2,0.4,0.6,0.8,1], "format": ".1f", "title": null}},
     "shape": {"field": "s", "type": "nominal"}}}
  ]}
]}
],
"resolve": {"scale": {"color": "shared", "shape": "shared"}},
"config": {
 "font": "Liberation Serif, serif",
 "view": {"stroke": null},
 "concat": {"spacing": 12},
 "axis": {"grid": true, "gridColor": "#e6e6e6", "gridWidth": 0.8, "domainColor": "#222222", "domainWidth": 1.2, "ticks": false, "labelFontSize": 7, "labelColor": "#333333", "labelPadding": 5, "labelFont": "Liberation Serif, serif", "titleFont": "Liberation Serif, serif", "titleFontWeight": "normal", "titleColor": "#222222", "labelFlush": false, "labelOverlap": false},
 "axisY": {"titleFontSize": 15, "titlePadding": 6},
 "axisX": {"titleFontSize": 16, "titleFontStyle": "italic", "titlePadding": 5, "labelPadding": 6},
 "title": {"font": "Liberation Serif, serif", "fontSize": 16, "fontWeight": "normal", "color": "#222222", "offset": 2},
 "legend": {"labelFont": "Liberation Serif, serif", "labelColor": "#222222"}
}
}
